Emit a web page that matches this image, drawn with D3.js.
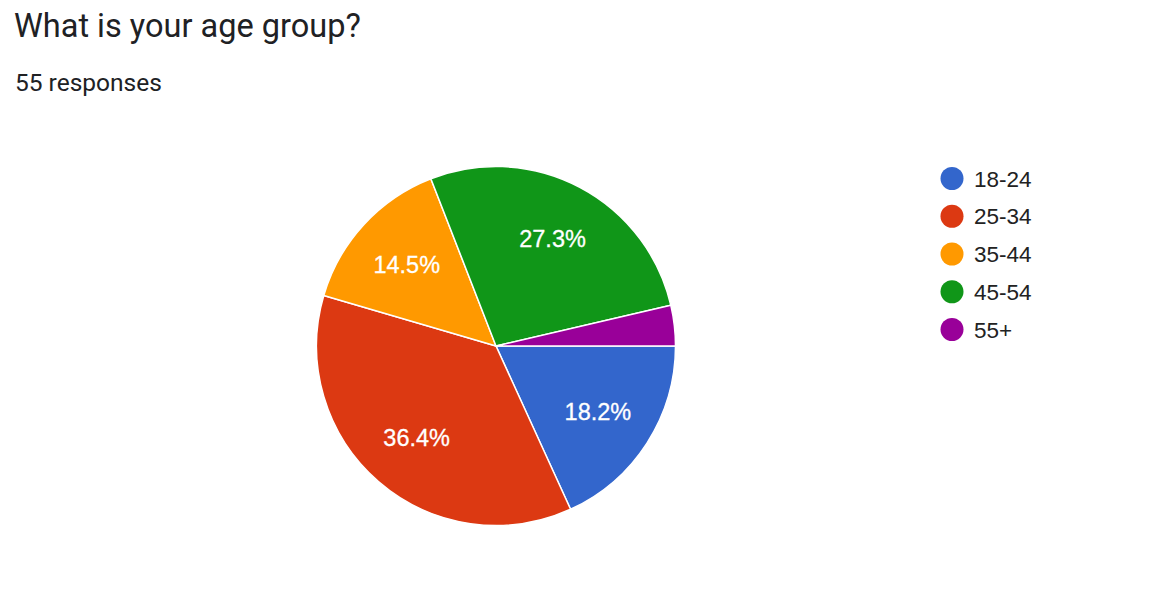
<!DOCTYPE html>
<html><head><meta charset="utf-8">
<script src="https://cdn.jsdelivr.net/npm/d3@7"></script>
<style>html,body{margin:0;padding:0;background:#fff;}</style>
</head><body>
<svg id="chart" width="1158" height="602"></svg>
<script>
const categories = ["18-24", "25-34", "35-44", "45-54", "55+"];
const counts = [10, 20, 8, 15, 2];
const colors = ["#3366cc", "#dc3912", "#ff9900", "#109618", "#990099"];
const title = "What is your age group?";
const subtitle = "55 responses";

const svg = d3.select("#chart");
svg.append("text").attr("x", 14).attr("y", 37)
  .attr("font-family", "Roboto").attr("font-size", 32.5).attr("fill", "#202124").text(title);
svg.append("text").attr("x", 15).attr("y", 90.5)
  .attr("font-family", "Roboto").attr("font-size", 24.5).attr("fill", "#202124").text(subtitle);

const cx = 496, cy = 346, r = 179.5;
const total = d3.sum(counts);
const data = categories.map((c, i) => ({cat: c, v: counts[i], color: colors[i]}));
const pie = d3.pie().value(d => d.v).sort(null)
  .startAngle(Math.PI / 2).endAngle(Math.PI / 2 + 2 * Math.PI);
const arcs = pie(data);
const arc = d3.arc().innerRadius(0).outerRadius(r);
const labelArc = d3.arc().innerRadius(r * 0.675).outerRadius(r * 0.675);
const g = svg.append("g").attr("transform", `translate(${cx},${cy})`);
g.selectAll("path").data(arcs).join("path")
  .attr("d", arc).attr("fill", d => d.data.color)
  .attr("stroke", "#fff").attr("stroke-width", 1.5).attr("stroke-linejoin", "round");
g.selectAll("text").data(arcs.filter(d => d.data.v / total > 0.05)).join("text")
  .attr("transform", d => `translate(${labelArc.centroid(d)})`)
  .attr("text-anchor", "middle").attr("dy", "0.36em")
  .attr("font-family", "Liberation Sans, Arial, sans-serif").attr("font-size", 23.5)
  .attr("fill", "#fff").attr("stroke", "#fff").attr("stroke-width", 0.3)
  .text(d => (d.data.v / total * 100).toFixed(1) + "%");

const legend = svg.append("g");
const ly = d3.scalePoint().domain(categories).range([178.5, 329.5]);
const items = legend.selectAll("g").data(data).join("g")
  .attr("transform", d => `translate(952,${ly(d.cat)})`);
items.append("circle").attr("r", 11.5).attr("fill", d => d.color);
items.append("text").attr("x", 22).attr("dy", "0.36em")
  .attr("font-family", "Liberation Sans, Arial, sans-serif").attr("font-size", 22.5)
  .attr("fill", "#222").text(d => d.cat);
</script>
</body></html>
